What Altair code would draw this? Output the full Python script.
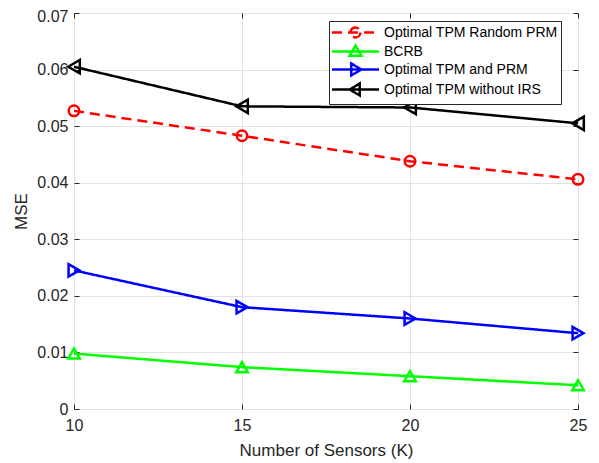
import altair as alt
import pandas as pd

sensors = [10, 15, 20, 25]
series_names = ["Optimal TPM Random PRM", "BCRB", "Optimal TPM and PRM", "Optimal TPM without IRS"]
mse_random_prm = [0.0527, 0.0483, 0.0438, 0.0406]
mse_bcrb = [0.0098, 0.0074, 0.0058, 0.0042]
mse_tpm_prm = [0.0245, 0.0180, 0.0160, 0.0134]
mse_without_irs = [0.0605, 0.0535, 0.0533, 0.0505]
y_ticks = [0, 0.01, 0.02, 0.03, 0.04, 0.05, 0.06, 0.07]

colors = ["#ff0000", "#00ff00", "#0000ff", "#000000"]
dashes = [[10, 6], [1, 0], [1, 0], [1, 0]]
marker_shapes = ["circle", "triangle-up", "triangle-right", "triangle-left"]
marker_sizes = [110, 180, 180, 180]

L = "M-3.36,0L3.36,0"
legend_shapes = [
    L + "M0.7,0A0.7,0.7 0 1,1 -0.7,0A0.7,0.7 0 1,1 0.7,0Z",
    L + "M0,-0.85L0.85,0.6L-0.85,0.6Z",
    L + "M0.85,0L-0.6,-0.85L-0.6,0.85Z",
    L + "M-0.85,0L0.6,-0.85L0.6,0.85Z",
]

rows = []
for name, vals in zip(series_names, [mse_random_prm, mse_bcrb, mse_tpm_prm, mse_without_irs]):
    for k, v in zip(sensors, vals):
        rows.append({"K": k, "MSE": v, "series": name})
df = pd.DataFrame(rows)

FONT = "Liberation Sans"
TXT = "#262626"

xscale = alt.Scale(domain=[10, 25], nice=False, zero=False)
yscale = alt.Scale(domain=[0, 0.07], nice=False)

x_main = alt.X("K:Q", scale=xscale, title="Number of Sensors (K)",
               axis=alt.Axis(values=sensors, format="d", offset=-5, tickSize=5, domain=False,
                             labelPadding=8, titlePadding=9, grid=True, labelFlush=False,
                             labelFont=FONT, labelFontSize=16, labelColor=TXT,
                             titleFont=FONT, titleFontSize=17, titleColor=TXT, titleFontWeight="normal"))
y_main = alt.Y("MSE:Q", scale=yscale, title="MSE",
               axis=alt.Axis(values=y_ticks, format=".2~f",
                             offset=-5, tickSize=5, domain=False, labelPadding=6,
                             labelOffset=alt.ConditionalAxisNumber(
                                 condition={"test": "datum.value > 0.065", "value": 3}, value=0),
                             titlePadding=6, grid=True,
                             labelFont=FONT, labelFontSize=16, labelColor=TXT,
                             titleFont=FONT, titleFontSize=17, titleColor=TXT, titleFontWeight="normal"))

color_nl = alt.Color("series:N", scale=alt.Scale(domain=series_names, range=colors), legend=None)

lines = alt.Chart(df).mark_line(strokeWidth=2.5).encode(
    x=x_main, y=y_main, color=color_nl,
    strokeDash=alt.StrokeDash("series:N", scale=alt.Scale(domain=series_names, range=dashes), legend=None),
)

points = alt.Chart(df).mark_point(filled=False, strokeWidth=2.5, opacity=1).encode(
    x=alt.X("K:Q", scale=xscale, axis=None),
    y=alt.Y("MSE:Q", scale=yscale, axis=None),
    color=color_nl,
    shape=alt.Shape("series:N", scale=alt.Scale(domain=series_names, range=marker_shapes), legend=None),
    size=alt.Size("series:N", scale=alt.Scale(domain=series_names, range=marker_sizes), legend=None),
)

leg = alt.Legend(title=None, orient="none", legendX=255, legendY=8, symbolSize=196,
                 symbolStrokeWidth=2.5, symbolOpacity=1, symbolOffset=15, labelOffset=20,
                 labelFontSize=14, labelFont=FONT, labelColor="#000000", labelLimit=400,
                 padding=3, strokeColor="#262626", fillColor="#ffffff", rowPadding=-3)

legend_layer = alt.Chart(df).mark_point(filled=False, opacity=0, strokeWidth=2.5).encode(
    x=alt.X("K:Q", scale=xscale, axis=alt.Axis(orient="top", values=sensors, labels=False,
                                              offset=-5, tickSize=5, domain=False, grid=False, title=None)),
    y=alt.Y("MSE:Q", scale=yscale, axis=alt.Axis(orient="right", values=y_ticks,
                                                labels=False, offset=-5, tickSize=5, domain=False,
                                                grid=False, title=None)),
    color=alt.Color("series:N", scale=alt.Scale(domain=series_names, range=colors), legend=leg),
    shape=alt.Shape("series:N", scale=alt.Scale(domain=series_names, range=legend_shapes), legend=leg),
    strokeDash=alt.StrokeDash("series:N", scale=alt.Scale(domain=series_names, range=dashes), legend=leg),
)

chart = alt.layer(lines, points, legend_layer).resolve_scale(
    color="independent", shape="independent", strokeDash="independent"
).resolve_axis(
    x="independent", y="independent"
).properties(
    width=504, height=396,
    autosize=alt.AutoSizeParams(type="none"),
    padding={"left": 66, "top": 5, "right": 10, "bottom": 50},
    background="white",
).configure_view(
    stroke=TXT, strokeWidth=1
).configure_axis(
    tickColor=TXT, tickWidth=1,
    gridColor="#e3e3e3", gridWidth=1,
)

chart.save("out.html", embed_options={"renderer": "svg", "actions": False})
